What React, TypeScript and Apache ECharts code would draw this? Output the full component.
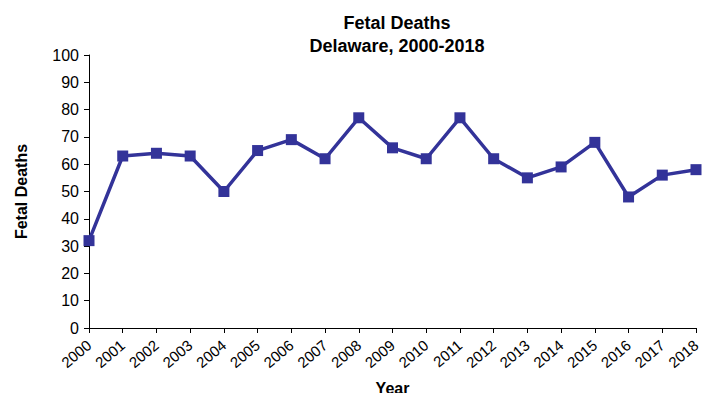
import React, { useEffect, useRef } from "react";
import * as echarts from "echarts";

const years = ["2000","2001","2002","2003","2004","2005","2006","2007","2008","2009","2010","2011","2012","2013","2014","2015","2016","2017","2018"];
const fetalDeaths = [32, 63, 64, 63, 50, 65, 69, 62, 77, 66, 62, 77, 62, 55, 59, 68, 48, 56, 58];
const titleLines = ["Fetal Deaths", "Delaware, 2000-2018"];

const FONT = "'Liberation Sans', Arial, sans-serif";

export default function App() {
  const ref = useRef<HTMLDivElement>(null);
  useEffect(() => {
    if (!ref.current) return;
    const chart = echarts.init(ref.current, undefined, { renderer: "svg" });
    chart.setOption({
      animation: false,
      backgroundColor: "#ffffff",
      title: {
        text: titleLines.join("\n"),
        left: 392,
        textAlign: "center",
        top: 6,
        textStyle: { fontFamily: FONT, fontWeight: "bold", fontSize: 18, color: "#000", lineHeight: 23 },
      },
      grid: { left: 89, right: 16, top: 55, bottom: 73, containLabel: false, outerBoundsMode: "none" },
      xAxis: {
        type: "category",
        data: years,
        boundaryGap: false,
        name: "Year",
        nameLocation: "middle",
        nameGap: 52,
        nameMoveOverlap: false,
        nameTextStyle: { fontFamily: FONT, fontWeight: "bold", fontSize: 16, color: "#000" },
        axisLine: { lineStyle: { color: "#000", width: 1 } },
        axisTick: { show: true, alignWithLabel: true, length: 5, lineStyle: { color: "#000" } },
        axisLabel: { rotate: 40, fontFamily: FONT, fontSize: 15, color: "#000", margin: 15, interval: 0 },
        splitLine: { show: false },
      },
      yAxis: {
        type: "value",
        min: 0,
        max: 100,
        interval: 10,
        name: "Fetal Deaths",
        nameLocation: "middle",
        nameGap: 60,
        nameMoveOverlap: false,
        nameTextStyle: { fontFamily: FONT, fontWeight: "bold", fontSize: 16, color: "#000" },
        axisLine: { show: true, lineStyle: { color: "#000", width: 1 } },
        axisTick: { show: true, length: 5, lineStyle: { color: "#000" } },
        axisLabel: { fontFamily: FONT, fontSize: 16, color: "#000", margin: 10 },
        splitLine: { show: false },
      },
      series: [
        {
          type: "line",
          data: fetalDeaths,
          lineStyle: { color: "#333399", width: 3.5 },
          itemStyle: { color: "#333399" },
          symbol: "rect",
          symbolSize: 11,
        },
      ],
    });
    return () => chart.dispose();
  }, []);
  return <div ref={ref} style={{ width: 712, height: 401, margin: -8 }} />;
}
